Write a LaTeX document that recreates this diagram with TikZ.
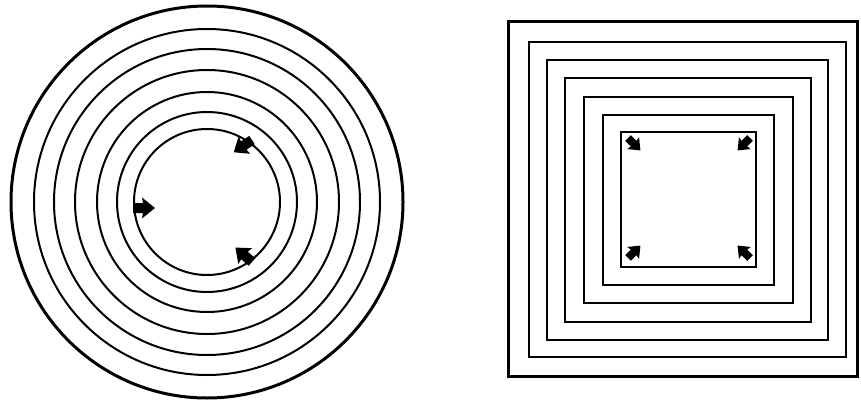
\documentclass[tikz,border=0pt]{standalone}
\usetikzlibrary{calc}
\tikzset{
  ring/.style={line width=2pt},
  outerring/.style={line width=3pt},
  sq/.style={line width=1.8pt},
  outersq/.style={line width=3pt},
  blockarrow/.pic={\fill[black] (0pt,-5pt) -- (10pt,-5pt) -- (9pt,-10.5pt) -- (22pt,0pt) -- (9pt,10.5pt) -- (10pt,5pt) -- (0pt,5pt) -- cycle;}
}
\begin{document}
\begin{tikzpicture}[x=1pt,y=-1pt]
\fill[white] (0,0) rectangle (861,404);
\useasboundingbox (0,0) rectangle (861,404);
% concentric circles
\coordinate (c) at (207,202);
\draw[outerring] (c) circle [radius=196pt];
\foreach \r in {173,153,132,110,90,73}
  \draw[ring] (c) circle [radius=\r pt];
% arrows on inner circle
\pic[rotate=0] at (133,208) {blockarrow};
\pic[rotate=214] at (252,140) {blockarrow};
\pic[rotate=139] at (252,262) {blockarrow};
% concentric squares
\draw[outersq] (508,22) rectangle (857,376);
\draw[sq] (529,42) rectangle (846,357);
\draw[sq] (547,60) rectangle (828,340);
\draw[sq] (565,78) rectangle (811,322);
\draw[sq] (584,97) rectangle (793,303);
\draw[sq] (603,115) rectangle (774,285);
\draw[sq] (621,132) rectangle (756,267);
% corner arrows
\pic[rotate=-45,scale=0.8] at (628,138) {blockarrow};
\pic[rotate=225,scale=0.8] at (750,138) {blockarrow};
\pic[rotate=45,scale=0.8] at (628,258) {blockarrow};
\pic[rotate=135,scale=0.8] at (750,258) {blockarrow};
\end{tikzpicture}
\end{document}
